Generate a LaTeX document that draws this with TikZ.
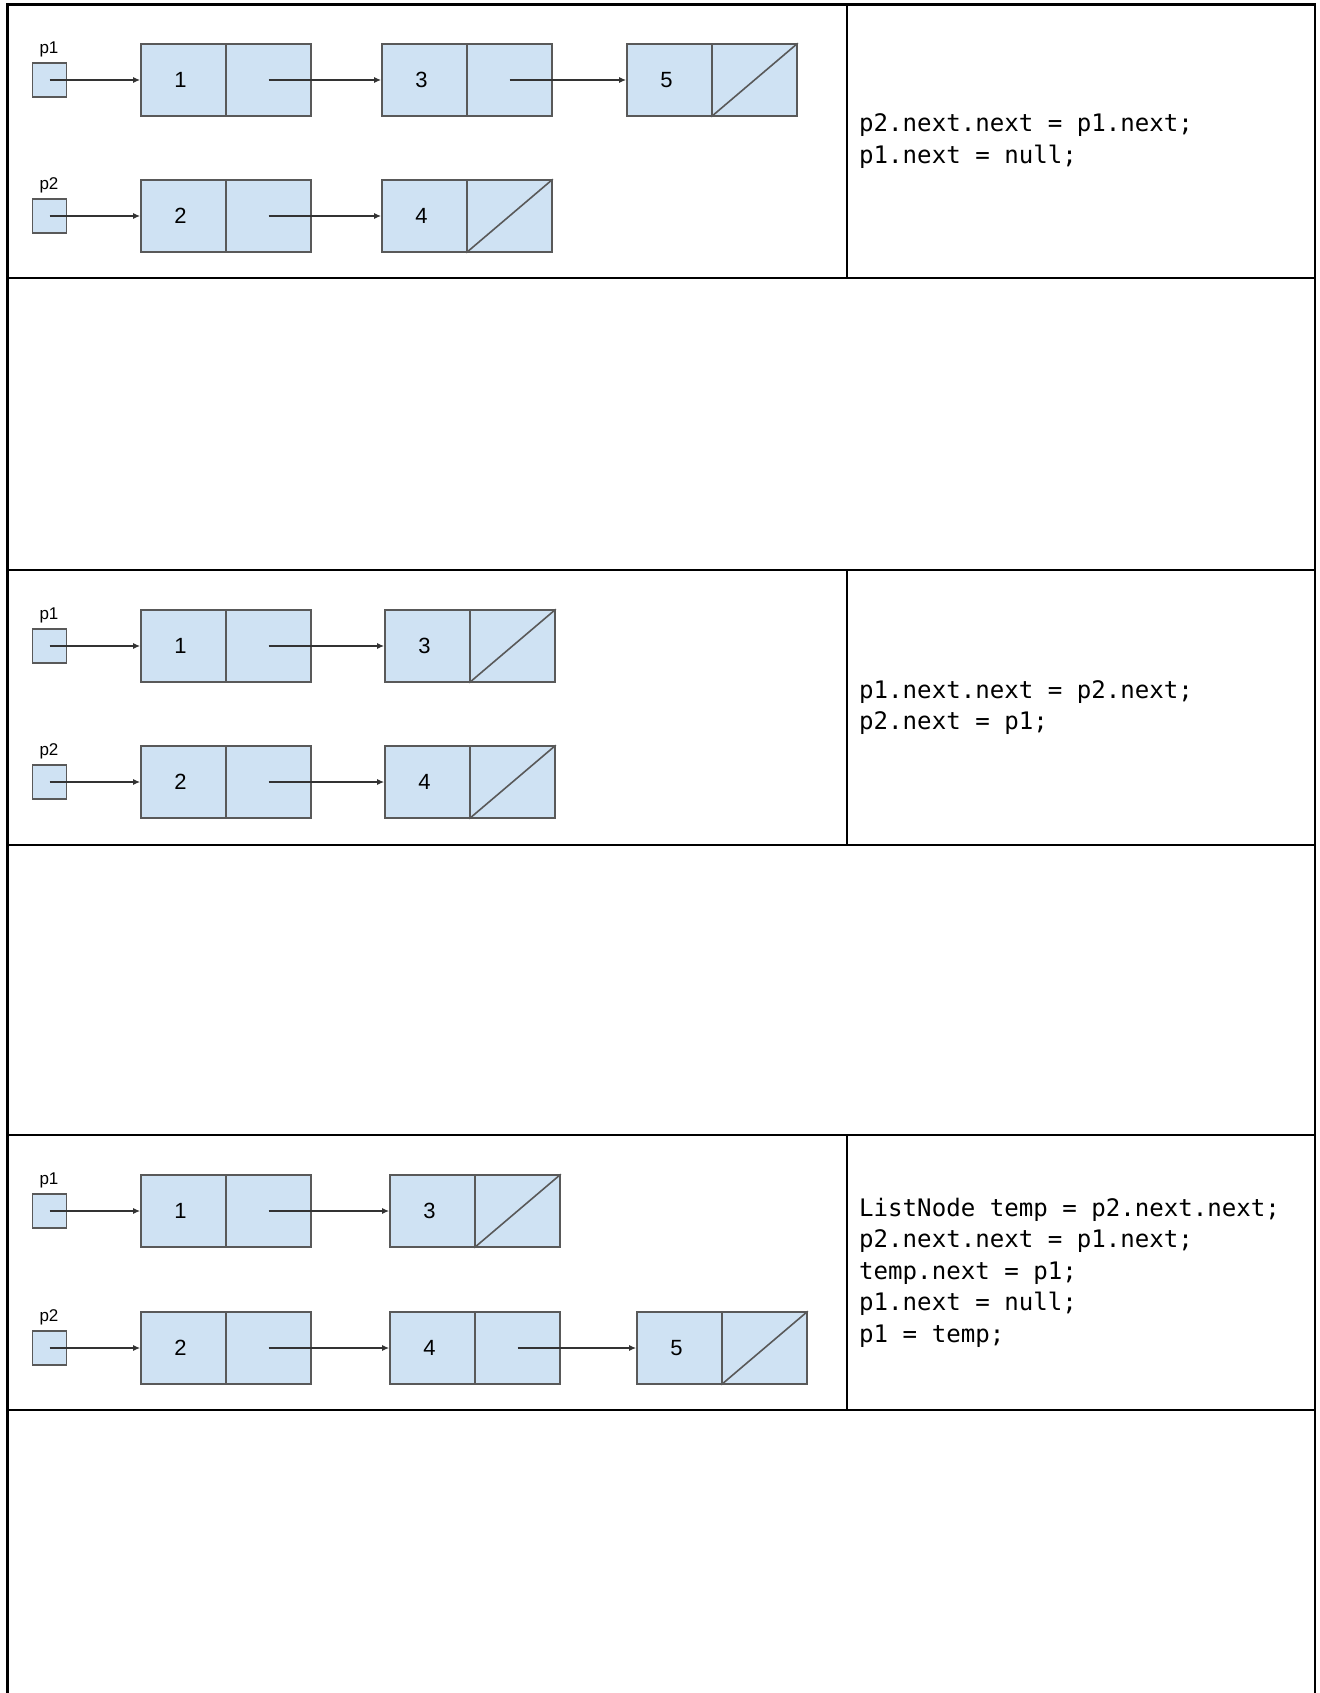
\documentclass[tikz,border=0pt]{standalone}
\usepackage{fontspec}
\setmainfont{Liberation Sans}
\newfontfamily\codefont{DejaVu Sans Mono}
\usetikzlibrary{arrows.meta}
\definecolor{cellfill}{HTML}{CFE2F3}
\definecolor{cellline}{HTML}{595959}
\definecolor{arrowcol}{HTML}{333333}
\tikzset{
  tbl/.style={line width=2.6pt, draw=black},
  divline/.style={line width=2.2pt, draw=black},
  cellbox/.style={draw=cellline, fill=cellfill, line width=1.6pt, minimum width=85pt, minimum height=72pt, inner sep=0pt, font=\fontsize{22}{22}\selectfont},
  ptrbox/.style={draw=cellline, fill=cellfill, line width=1.6pt, minimum width=34pt, minimum height=34pt, inner sep=0pt},
  ptrlabel/.style={font=\fontsize{17}{17}\selectfont, inner sep=0pt},
  link/.style={draw=arrowcol, line width=1.4pt, -{Latex[length=7pt,width=6pt]}},
  nullline/.style={draw=cellline, line width=1.6pt},
  codetext/.style={font=\codefont\fontsize{24.1}{31.5}\selectfont, align=left, anchor=west, inner sep=0pt}
}
\newcommand\listcell[4]{%
  \node[cellbox] (#1d) at ({#2+42.5},#3) {\hspace*{-6pt}#4};
  \node[cellbox] (#1n) at ({#2+127.5},#3) {};
}
\newcommand\ptrcell[3]{%
  \node[ptrbox] (#1) at (49.5,#2) {};
  \node[ptrlabel] (#1l) at (49,{#2-31}) {#3};
}
\newcommand\nullmark[1]{\draw[nullline] (#1.south west) -- (#1.north east);}
\begin{document}
\begin{tikzpicture}[x=1pt,y=-1pt]
\useasboundingbox (0,0) rectangle (1319,1693);
% table
\draw[tbl] (7.5,1693) -- (7.5,4.5) -- (1315,4.5) -- (1315,1693);
\foreach \yy in {278,570,845,1135,1410} {\draw[tbl] (7.5,\yy) -- (1315,\yy);}
\draw[divline] (847,4.5) -- (847,278);
\draw[divline] (847,570) -- (847,845);
\draw[divline] (847,1135) -- (847,1410);
% row 1
\ptrcell{ap1}{80}{p1}
\ptrcell{ap2}{216}{p2}
\listcell{a1}{141}{80}{1}
\listcell{a3}{382}{80}{3}
\listcell{a5}{627}{80}{5}
\listcell{a2}{141}{216}{2}
\listcell{a4}{382}{216}{4}
\nullmark{a5n}
\nullmark{a4n}
\draw[link] (ap1.center) -- (a1d.west);
\draw[link] (a1n.center) -- (a3d.west);
\draw[link] (a3n.center) -- (a5d.west);
\draw[link] (ap2.center) -- (a2d.west);
\draw[link] (a2n.center) -- (a4d.west);
\node[codetext] (codeA) at (859,141) {p2.next.next = p1.next;\\p1.next = null;};
% row 3
\ptrcell{bp1}{646}{p1}
\ptrcell{bp2}{782}{p2}
\listcell{b1}{141}{646}{1}
\listcell{b3}{385}{646}{3}
\listcell{b2}{141}{782}{2}
\listcell{b4}{385}{782}{4}
\nullmark{b3n}
\nullmark{b4n}
\draw[link] (bp1.center) -- (b1d.west);
\draw[link] (b1n.center) -- (b3d.west);
\draw[link] (bp2.center) -- (b2d.west);
\draw[link] (b2n.center) -- (b4d.west);
\node[codetext] (codeB) at (859,707.5) {p1.next.next = p2.next;\\p2.next = p1;};
% row 5
\ptrcell{cp1}{1211}{p1}
\ptrcell{cp2}{1348}{p2}
\listcell{c1}{141}{1211}{1}
\listcell{c3}{390}{1211}{3}
\listcell{c2}{141}{1348}{2}
\listcell{c4}{390}{1348}{4}
\listcell{c5}{637}{1348}{5}
\nullmark{c3n}
\nullmark{c5n}
\draw[link] (cp1.center) -- (c1d.west);
\draw[link] (c1n.center) -- (c3d.west);
\draw[link] (cp2.center) -- (c2d.west);
\draw[link] (c2n.center) -- (c4d.west);
\draw[link] (c4n.center) -- (c5d.west);
\node[codetext] (codeC) at (859,1272.5) {ListNode temp = p2.next.next;\\p2.next.next = p1.next;\\temp.next = p1;\\p1.next = null;\\p1 = temp;};
\end{tikzpicture}
\end{document}
